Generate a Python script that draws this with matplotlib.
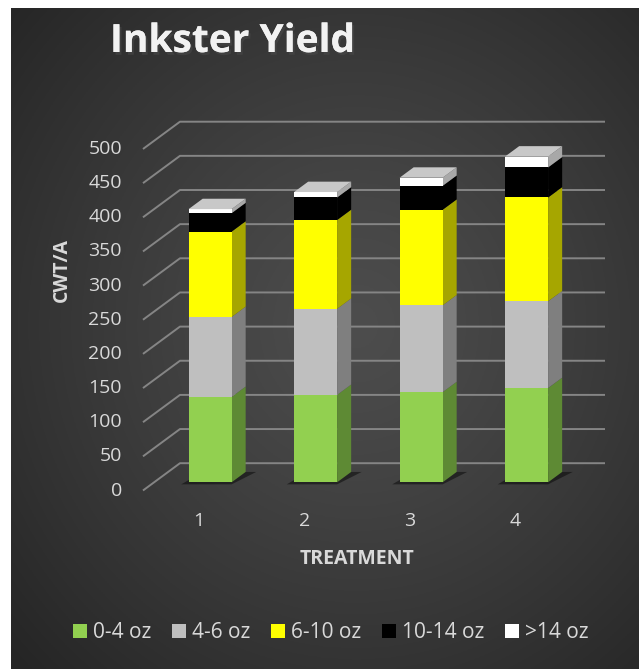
import numpy as np
import matplotlib.pyplot as plt
from matplotlib.patches import Polygon, Patch
import matplotlib.patheffects as pe

plt.rcParams["font.family"] = ["Open Sans", "DejaVu Sans"]

# data (CWT/A per size class)
treatments = ["1", "2", "3", "4"]
size_classes = ["0-4 oz", "4-6 oz", "6-10 oz", "10-14 oz", ">14 oz"]
oz_0_4 = [125, 128, 132, 138]
oz_4_6 = [117, 126, 127, 127]
oz_6_10 = [125, 130, 140, 152]
oz_10_14 = [27, 33, 35, 44]
oz_14_up = [6, 8, 12, 16]
yticks = [0, 50, 100, 150, 200, 250, 300, 350, 400, 450, 500]

front_cols = ["#92d050", "#bfbfbf", "#ffff00", "#000000", "#ffffff"]
side_cols = ["#5e8a34", "#7f7f7f", "#a6a600", "#000000", "#a8a8a8"]
top_col = "#c8c8c8"

W, H = 639, 669
fig = plt.figure(figsize=(W / 100, H / 100), dpi=100)
fig.patch.set_facecolor("white")

# background panel with radial gradient
bg = fig.add_axes([11 / W, 0, (W - 11) / W, (H - 8) / H])
bg.set_axis_off()
gx, gy = np.meshgrid(np.linspace(0, 1, 300), np.linspace(0, 1, 300))
r = np.sqrt(((gx - 0.55) / 0.75) ** 2 + ((gy - 0.52) / 0.75) ** 2)
r = np.clip(r, 0, 1)
lev = (0x4d - (0x4d - 0x25) * r ** 1.2) / 255
img = np.dstack([lev, lev, lev])
bg.imshow(img, extent=[0, 1, 0, 1], aspect="auto", origin="lower")
bg.set_xlim(0, 1)
bg.set_ylim(0, 1)

# main axes over the whole figure, data units = category / CWT/A
ax = fig.add_axes([0, 0, 1, 1])
ax.set_axis_off()
ax.patch.set_alpha(0)
px_per_cat = 105.5
px_per_val = 0.683
x0_px, y0_px = 199, 490.5
ax.set_xlim(1 - x0_px / px_per_cat, 1 + (W - x0_px) / px_per_cat)
ax.set_ylim((y0_px - H) / px_per_val, y0_px / px_per_val)

# oblique depth vector (front plane -> back wall)
dep_x = 37 / px_per_cat
dep_y = 27.3 / px_per_val
grid_col = "#858585"

wall_left = 0.469
wall_right = 1 + (605 - x0_px) / px_per_cat
for v in yticks:
    ax.plot([wall_left, wall_left + dep_x, wall_right],
            [v, v + dep_y, v + dep_y], color=grid_col, lw=1.4,
            solid_capstyle="butt", zorder=1)
    ax.text(wall_left - 0.2, v, str(v), ha="right", va="center",
            fontsize=14, color="#d9d9d9")

for i, t in enumerate(treatments):
    ax.text(i + 1, -44, t, ha="center", va="center", fontsize=14,
            color="#d9d9d9")

# bars
bar_w = 43 / px_per_cat
f0 = 0.3   # bar front face depth
fd = 0.38  # bar depth
ddx, ddy = dep_x * fd, dep_y * fd
series = [oz_0_4, oz_4_6, oz_6_10, oz_10_14, oz_14_up]
for i in range(len(treatments)):
    xl = i + 1 + dep_x * f0 - bar_w / 2
    xr = xl + bar_w
    base = dep_y * f0
    # floor shadow
    ax.add_patch(Polygon([(xl - 0.07, base - 3), (xr, base - 3),
                          (xr + ddx + 0.1, base + ddy), (xl + ddx, base + ddy)],
                         closed=True, fc="black", ec="none", alpha=0.45, zorder=2))
    bottom = 0
    for k, s in enumerate(series):
        y0 = base + bottom
        y1 = y0 + s[i]
        ax.add_patch(Polygon([(xl, y0), (xr, y0), (xr, y1), (xl, y1)],
                             closed=True, fc=front_cols[k], ec="none", zorder=4))
        ax.add_patch(Polygon([(xr, y0), (xr + ddx, y0 + ddy),
                              (xr + ddx, y1 + ddy), (xr, y1)],
                             closed=True, fc=side_cols[k], ec="none", zorder=3))
        bottom += s[i]
    top = base + bottom
    ax.add_patch(Polygon([(xl, top), (xr, top), (xr + ddx, top + ddy),
                          (xl + ddx, top + ddy)],
                         closed=True, fc=top_col, ec="none", zorder=4))

# titles and axis labels
title = fig.text(110 / W, 1 - 52 / H, "Inkster Yield", ha="left", va="baseline",
                 fontsize=28, fontweight="bold", color="#f2f2f2")
title.set_path_effects([pe.withSimplePatchShadow(offset=(1.5, -2), alpha=0.6),
                        pe.Normal()])
fig.text(357 / W, 1 - 559 / H, "TREATMENT", ha="center", va="center",
         fontsize=14, fontweight="bold", color="#d9d9d9")
fig.text(62 / W, 1 - 270 / H, "CWT/A", ha="center", va="center", rotation=90,
         fontsize=14, fontweight="bold", color="#d9d9d9")

handles = [Patch(fc=c, ec="none") for c in front_cols]
fig.legend(handles, size_classes, loc="center", bbox_to_anchor=(331 / W, 1 - 633 / H),
           ncol=5, frameon=False, fontsize=15, labelcolor="#d9d9d9",
           handlelength=0.65, handleheight=0.65, handletextpad=0.3,
           columnspacing=1.0)

fig.savefig("out.png", dpi=100, facecolor=fig.get_facecolor())
